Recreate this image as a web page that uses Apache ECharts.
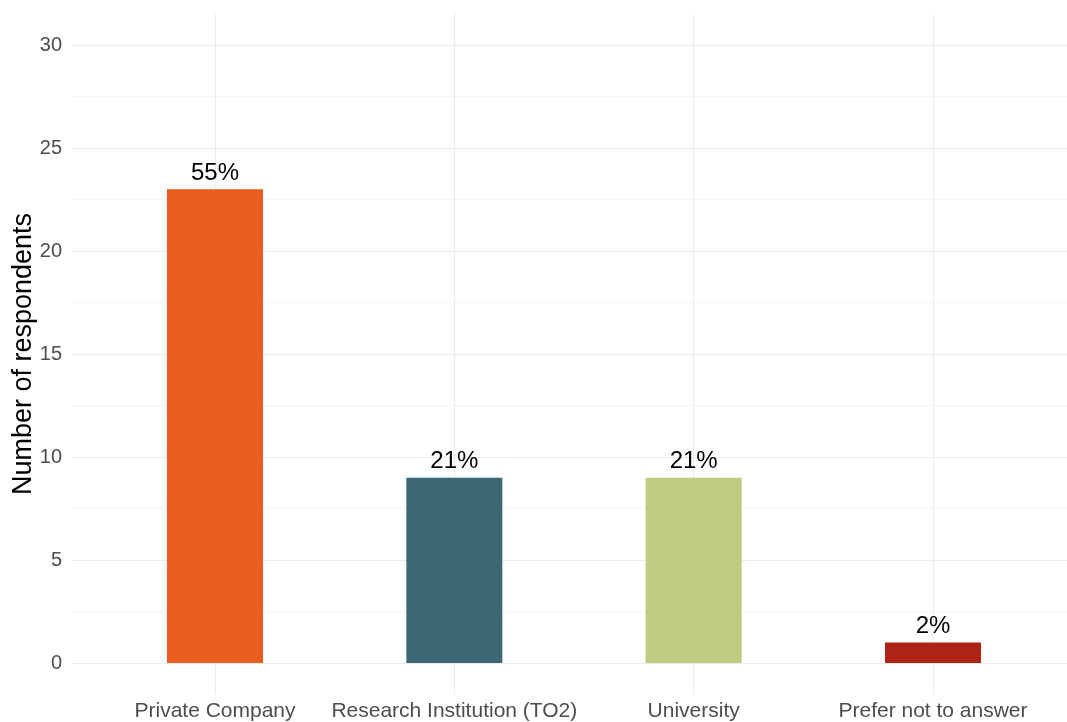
<!DOCTYPE html>
<html lang="en">
<head>
    <meta charset="UTF-8">
    <title>Respondents by organisation</title>
    <script type="text/javascript" src="https://cdn.jsdelivr.net/npm/echarts@6/dist/echarts.min.js"></script>
    <style>
        html, body { margin: 0; padding: 0; background: #fff; }
    </style>
</head>
<body>
<div id="chartmain" style="width:1067px;height:722px"></div>
<script>
    // data
    var categories = ['Private Company', 'Research Institution (TO2)', 'University', 'Prefer not to answer'];
    var counts = [23, 9, 9, 1];
    var percentLabels = ['55%', '21%', '21%', '2%'];
    var barColors = ['#E95E1E', '#3B6873', '#BFCB80', '#AD2416'];
    var yTicks = [0, 5, 10, 15, 20, 25, 30];

    var font = '"Liberation Sans", Arial, sans-serif';

    var barData = [];
    for (var i = 0; i < counts.length; i++) {
        barData.push({
            value: counts[i],
            itemStyle: { color: barColors[i] },
            label: { formatter: percentLabels[i] }
        });
    }

    var option = {
        animation: false,
        textStyle: { fontFamily: font },
        grid: [
            // horizontal grid + y labels
            { left: 72, right: 0, top: 45, height: 618, outerBoundsMode: 'none', containLabel: false },
            // bars + vertical grid (ggplot style expanded panel)
            { left: 215, right: 134, top: 14, bottom: 28, outerBoundsMode: 'none', containLabel: false }
        ],
        xAxis: [
            { gridIndex: 0, type: 'value', show: false, min: 0, max: 1 },
            {
                gridIndex: 1,
                type: 'category',
                data: categories,
                boundaryGap: false,
                axisLine: { show: false },
                axisTick: { show: false },
                axisLabel: { color: '#4d4d4d', fontSize: 21, margin: 7, interval: 0, fontFamily: font },
                splitLine: { show: true, lineStyle: { color: '#ebebeb', width: 1 } }
            }
        ],
        yAxis: [
            {
                gridIndex: 0,
                type: 'value',
                min: yTicks[0],
                max: yTicks[yTicks.length - 1],
                interval: 5,
                name: 'Number of respondents',
                nameLocation: 'middle',
                nameGap: 35,
                nameRotate: 90,
                nameMoveOverlap: false,
                nameTextStyle: { color: '#000', fontSize: 27, fontFamily: font },
                axisLine: { show: false },
                axisTick: { show: false },
                axisLabel: { color: '#4d4d4d', fontSize: 20, margin: 10, fontFamily: font },
                splitLine: { show: true, lineStyle: { color: '#ebebeb', width: 1.2 } },
                minorTick: { show: false, splitNumber: 2 },
                minorSplitLine: { show: true, lineStyle: { color: '#f5f5f5', width: 1 } }
            },
            {
                gridIndex: 1,
                type: 'value',
                min: -1.5,
                max: 31.5,
                show: false,
                splitLine: { show: false }
            }
        ],
        series: [
            {
                type: 'bar',
                xAxisIndex: 1,
                yAxisIndex: 1,
                data: barData,
                barWidth: 96,
                clip: false,
                label: {
                    show: true,
                    position: 'top',
                    distance: 4,
                    color: '#000',
                    fontSize: 24,
                    fontFamily: font
                }
            }
        ]
    };

    var myChart = echarts.init(document.getElementById('chartmain'));
    myChart.setOption(option);
</script>
</body>
</html>
